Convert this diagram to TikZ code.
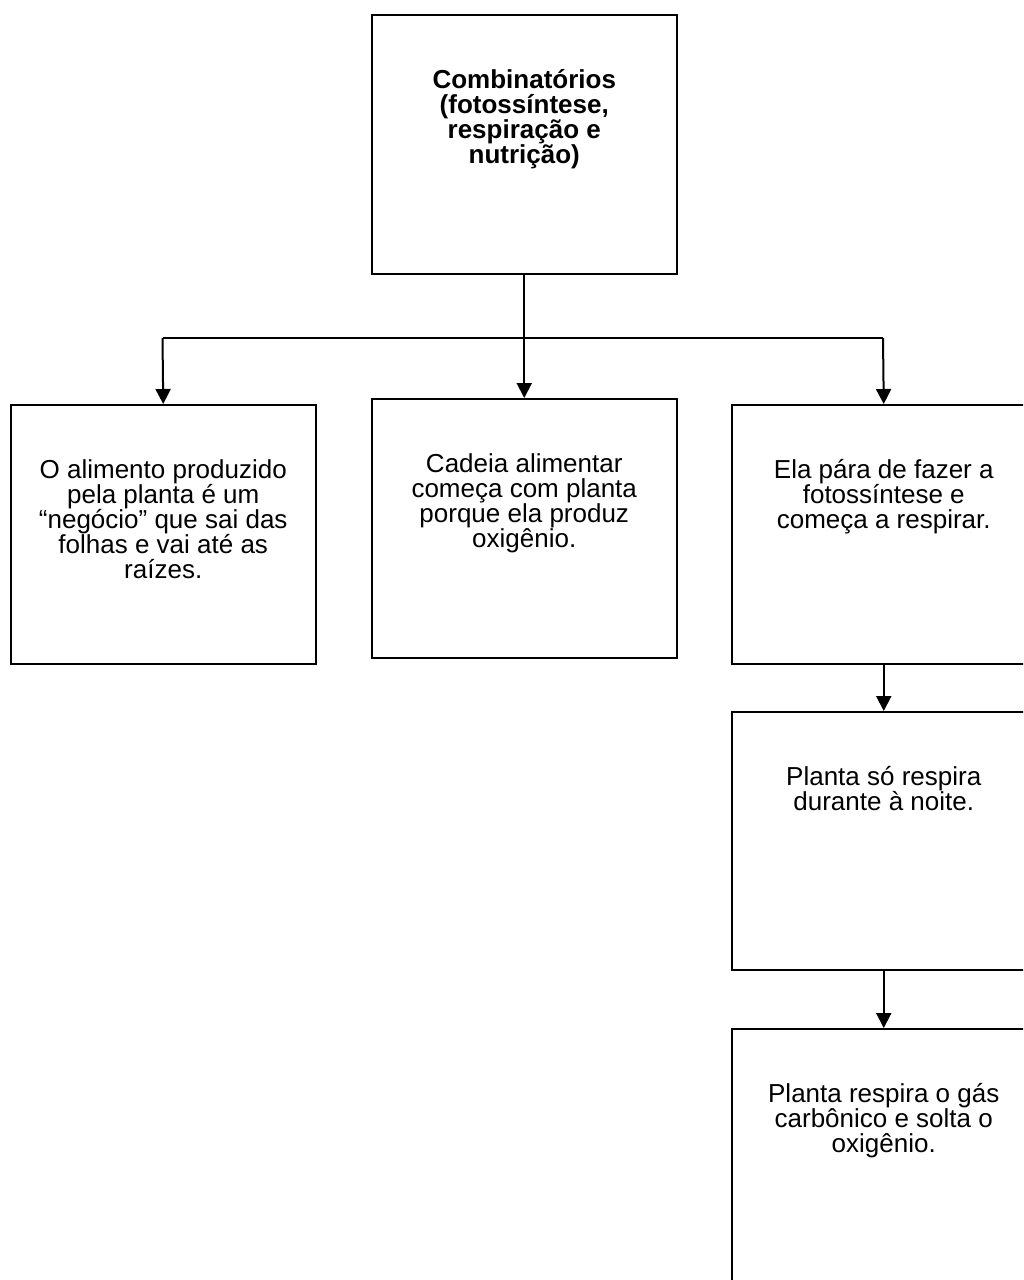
\documentclass[tikz,border=0pt]{standalone}
\usepackage{fontspec}
\setmainfont{Liberation Sans}
\usetikzlibrary{arrows.meta}
\begin{document}
\begin{tikzpicture}[x=1pt,y=-1pt,
  box/.style={draw, line width=1.5pt, inner sep=0pt, minimum width=305pt,
    minimum height=259pt, anchor=north west},
  boxtext/.style={align=center, inner sep=0pt, anchor=north,
    font=\fontsize{26}{25}\selectfont},
  link/.style={line width=2pt},
  arr/.style={line width=2pt, -{Triangle[length=15pt,width=15pt]}}
]
\useasboundingbox (0,0) rectangle (1023,1280);
\clip (0,0) rectangle (1023,1280);

% boxes
\node[box] (top) at (371,14) {};
\node[box] (left) at (10,404) {};
\node[box] (mid) at (371,398) {};
\node[box, minimum width=304pt] (r1) at (731,404) {};
\node[box, minimum width=304pt, minimum height=258pt] (r2) at (731,711) {};
\node[box, minimum width=304pt, minimum height=260pt] (r3) at (731,1028) {};

% texts
\newcommand{\firstline}{\rule{0pt}{26pt}}
\node[boxtext, font=\fontsize{26}{25}\selectfont\bfseries] (ttop) at ([yshift=-48pt]top.north)
  {\firstline Combinatórios\\(fotossíntese,\\respiração e\\nutrição)};
\node[boxtext] (tleft) at ([yshift=-48pt]left.north)
  {\firstline O alimento produzido\\pela planta é um\\“negócio” que sai das\\folhas e vai até as\\raízes.};
\node[boxtext] (tmid) at ([yshift=-48pt]mid.north)
  {\firstline Cadeia alimentar\\começa com planta\\porque ela produz\\oxigênio.};
\node[boxtext] (tr1) at ([yshift=-48pt]r1.north)
  {\firstline Ela pára de fazer a\\fotossíntese e\\começa a respirar.};
\node[boxtext] (tr2) at ([yshift=-48pt]r2.north)
  {\firstline Planta só respira\\durante à noite.};
\node[boxtext] (tr3) at ([yshift=-48pt]r3.north)
  {\firstline Planta respira o gás\\carbônico e solta o\\oxigênio.};

% connectors
\coordinate (hl) at (162.5,338);
\coordinate (hr) at (883,338);
\draw[link] (hl) -- (hr);
\draw[arr] (top.south) -- (mid.north);
\draw[arr] (hl) -- (left.north);
\draw[arr] (hr) -- (r1.north);
\draw[arr] (r1.south) -- (r2.north);
\draw[arr] (r2.south) -- (r3.north);
\end{tikzpicture}
\end{document}
